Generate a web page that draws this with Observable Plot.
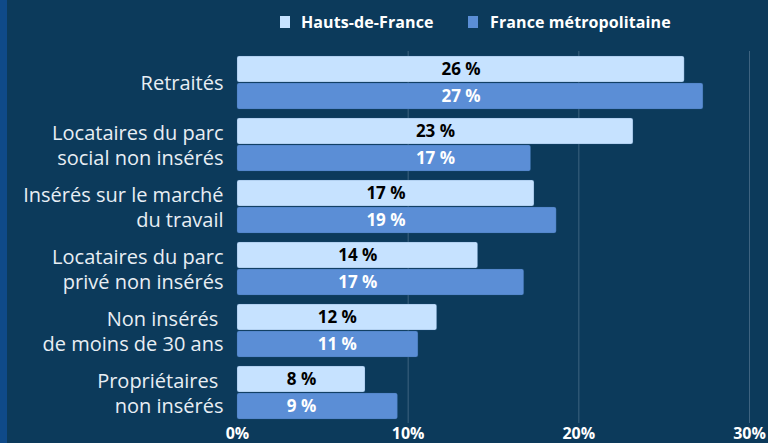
<!DOCTYPE html>
<html>
<head>
<meta charset="utf-8">
<script src="https://cdn.jsdelivr.net/npm/d3@7"></script>
<script src="https://cdn.jsdelivr.net/npm/@observablehq/plot@0.6"></script>
<style>
  html, body { margin: 0; padding: 0; background: #0c3a5b; overflow: hidden; }
  #wrap { position: relative; width: 768px; height: 443px; background: #0c3a5b; font-family: "Open Sans", sans-serif; }
  #stripe { position: absolute; left: 0; top: 0; width: 7px; height: 443px; background: #0f4a89; }
  #legend { position: relative; height: 45px; color: #fff; font-weight: 700; font-size: 16px; }
  .sw { position: absolute; top: 16px; width: 10px; height: 12px; }
  .lt { position: absolute; top: 11px; line-height: 22px; letter-spacing: 0.1px; }
  #chart { position: absolute; left: 0; top: 45px; }
  #chart svg { overflow: visible; }
</style>
</head>
<body>
<div id="wrap">
  <div id="stripe"></div>
  <div id="legend"></div>
  <div id="chart"></div>
</div>
<script>
const categories = [
  "Retraités",
  "Locataires du parc\nsocial non insérés",
  "Insérés sur le marché\ndu travail",
  "Locataires du parc\nprivé non insérés",
  "Non insérés\u00a0\nde moins de 30 ans",
  "Propriétaires\u00a0\nnon insérés"
];
const seriesNames = ["Hauts-de-France", "France métropolitaine"];
const hautsDeFrance = [26.2, 23.2, 17.4, 14.1, 11.7, 7.5];
const franceMetro = [27.3, 17.2, 18.7, 16.8, 10.6, 9.4];
const hautsDeFranceLabels = ["26 %", "23 %", "17 %", "14 %", "12 %", "8 %"];
const franceMetroLabels = ["27 %", "17 %", "19 %", "17 %", "11 %", "9 %"];
const xTicks = [0, 10, 20, 30];
const colors = ["#c6e2ff", "#5b8ed6"];

const rows = [];
categories.forEach((c, i) => {
  rows.push({cat: c, series: seriesNames[0], value: hautsDeFrance[i], label: hautsDeFranceLabels[i], anchor: hautsDeFrance[i] / 2});
  rows.push({cat: c, series: seriesNames[1], value: franceMetro[i], label: franceMetroLabels[i], anchor: hautsDeFrance[i] / 2});
});

// legend
const legend = document.getElementById("legend");
[[280, 301], [468, 490]].forEach(([sx, tx], i) => {
  const s = document.createElement("div");
  s.className = "sw"; s.style.left = sx + "px"; s.style.background = colors[i];
  legend.appendChild(s);
  const t = document.createElement("div");
  t.className = "lt"; t.style.left = tx + "px"; t.textContent = seriesNames[i];
  legend.appendChild(t);
});

const chart = Plot.plot({
  width: 768,
  height: 410,
  marginLeft: 237,
  marginRight: 19,
  marginTop: 10,
  marginBottom: 36,
  style: {background: "transparent", fontFamily: "Open Sans, sans-serif", overflow: "visible"},
  x: {domain: [0, 30], ticks: xTicks, tickFormat: d => d + "%", tickSize: 0, tickPadding: 8, label: null},
  y: {domain: seriesNames, paddingInner: 0.04, paddingOuter: 0, axis: null},
  fy: {domain: categories, paddingInner: 0.13, paddingOuter: 0, axis: null},
  color: {domain: seriesNames, range: colors},
  marks: [
    Plot.ruleX([10, 20, 30], {stroke: "#6f8ca5", strokeOpacity: 0.5, strokeWidth: 1, insetTop: -4, insetBottom: -4}),
    Plot.barX(rows, {x: "value", y: "series", fy: "cat", fill: "series", rx: 2, stroke: "#2c5c8a", strokeOpacity: 0.25, strokeWidth: 1}),
    Plot.text(rows, {x: "anchor", y: "series", fy: "cat", text: "label", fill: d => d.series === seriesNames[0] ? "#000000" : "#ffffff", fontWeight: 700, fontSize: 17}),
    Plot.text(categories, {fy: d => d, text: d => d, frameAnchor: "left", textAnchor: "end", dx: -14, fill: "#e8eef4", fontSize: 20, lineHeight: 1.22})
  ]
});
// style x axis tick labels
chart.querySelectorAll("g[aria-label='x-axis tick label'], g[aria-label='x-axis']").forEach(g => {
  g.setAttribute("fill", "#ffffff");
  g.setAttribute("font-size", "16");
  g.setAttribute("font-weight", "700");
});
chart.querySelectorAll("g[aria-label='x-axis tick label'] text, g[aria-label='x-axis'] text").forEach(t => {
  t.setAttribute("fill", "#ffffff");
  t.style.fontWeight = "700";
  t.style.fontSize = "16px";
});
document.getElementById("chart").appendChild(chart);
</script>
</body>
</html>
